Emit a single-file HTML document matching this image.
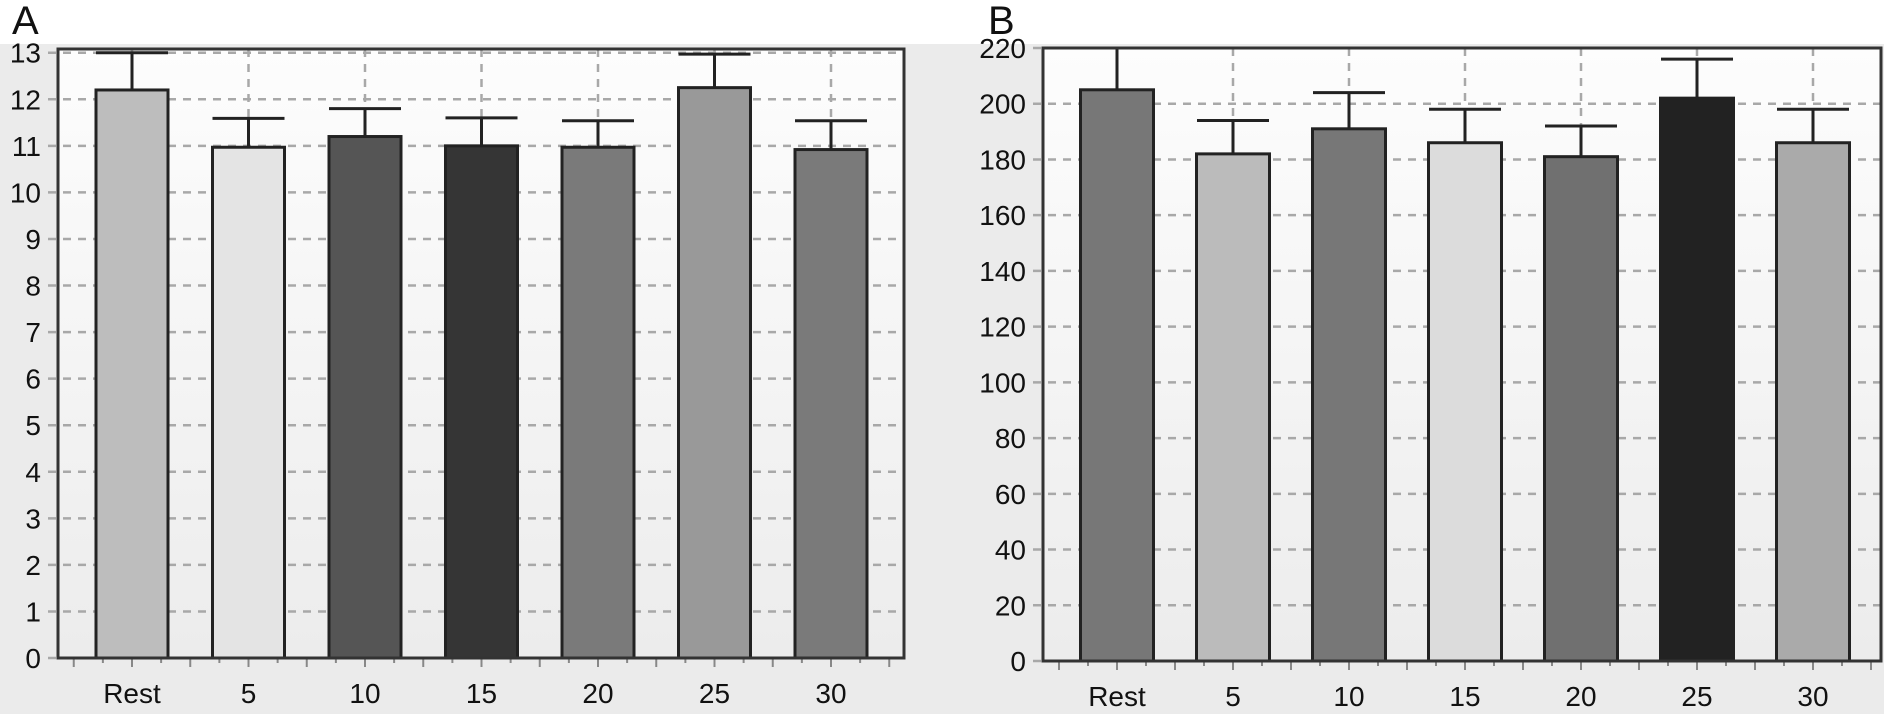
<!DOCTYPE html>
<html><head><meta charset="utf-8"><style>
html,body{margin:0;padding:0;background:#fff;}
svg{display:block;font-family:"Liberation Sans",Arial,sans-serif;}
</style></head><body>
<svg id="fig" width="1884" height="717" viewBox="0 0 1884 717" xmlns="http://www.w3.org/2000/svg">
<defs>
<linearGradient id="pbg" x1="0" y1="0" x2="0" y2="1">
<stop offset="0" stop-color="#fdfdfd"/><stop offset="1" stop-color="#ececec"/>
</linearGradient>
</defs>
<rect x="0" y="44" width="1884" height="670" fill="#ebebeb"/>
<text x="12" y="34" font-size="40" fill="#111">A</text>
<text x="988" y="34" font-size="40" fill="#111">B</text>
<g id="chartA"></g>
<g id="chartB"></g>
</svg>
<script>
const categories = ["Rest","5","10","15","20","25","30"];
const valuesA = [12.2, 10.97, 11.2, 11.0, 10.97, 12.25, 10.92];
const errorsA = [0.8, 0.62, 0.6, 0.6, 0.57, 0.72, 0.62];
const ticksA = [0,1,2,3,4,5,6,7,8,9,10,11,12,13];
const colorsA = ["#bdbdbd","#e4e4e4","#555555","#353535","#7a7a7a","#999999","#7a7a7a"];
const valuesB = [205, 182, 191, 186, 181, 202, 186];
const errorsB = [15, 12, 13, 12, 11, 14, 12];
const ticksB = [0,20,40,60,80,100,120,140,160,180,200,220];
const colorsB = ["#777777","#bbbbbb","#777777","#dcdcdc","#707070","#222222","#aaaaaa"];
const NS = "http://www.w3.org/2000/svg";
function mk(tag, attrs, parent){const e=document.createElementNS(NS,tag);for(const k in attrs)e.setAttribute(k,attrs[k]);parent.appendChild(e);return e;}
function drawChart(g, cfg){
  const {left,right,top,bottom,ymax,vals,errs,ticks,colors,firstCenter,step,barW,prefix}=cfg;
  const y = v => bottom - (v/ymax)*(bottom-top);
  const x = i => firstCenter + i*step;
  const bg = mk("rect",{x:left,y:top,width:right-left,height:bottom-top,fill:"url(#pbg)"},g);
  
  
  ticks.forEach(t=>{
    const gl = mk("line",{x1:left-10,x2:right,y1:y(t),y2:y(t),stroke:"#a8a8a8","stroke-width":2.5,"stroke-dasharray":"8 7"},g);
    
    
    const tl = mk("text",{x:left-17,y:y(t)+10,"font-size":28,"text-anchor":"end",fill:"#111"},g);
    tl.textContent = t;
    
    
  });
  categories.forEach((c,i)=>{
    const vg = mk("line",{x1:x(i),x2:x(i),y1:top,y2:bottom,stroke:"#a8a8a8","stroke-width":2.5,"stroke-dasharray":"8 7"},g);
    
    
  });
  for(let k=0;k<=((right-left)/(step/4));k++){
    const tx = firstCenter - step*0.5 + k*step/4 - step/4*Math.floor((firstCenter-step*0.5-left)/(step/4));
    if(tx<left||tx>right) continue;
    const tk = mk("line",{x1:tx,x2:tx,y1:bottom,y2:bottom+(k%2?5:9),stroke:"#888","stroke-width":2},g);
    
    
  }
  categories.forEach((c,i)=>{
    const top0=y(vals[i]+errs[i]);
    const el = mk("line",{x1:x(i),x2:x(i),y1:top0,y2:y(vals[i]),stroke:"#222","stroke-width":3},g);
    
    
    const cap = mk("line",{x1:x(i)-36,x2:x(i)+36,y1:top0,y2:top0,stroke:"#222","stroke-width":3},g);
    
    
    const b = mk("rect",{x:x(i)-barW/2,y:y(vals[i]),width:barW,height:bottom-y(vals[i]),fill:colors[i],stroke:"#222","stroke-width":3},g);
    
    
    const xl = mk("text",{x:x(i),y:bottom+45,"font-size":28,"text-anchor":"middle",fill:"#111"},g);
    xl.textContent = c;
    
    
  });
  const fr = mk("rect",{x:left,y:top,width:right-left,height:bottom-top,fill:"none",stroke:"#333","stroke-width":3},g);
  
  
}
drawChart(document.getElementById("chartA"),{left:58,right:904,top:49,bottom:658,ymax:13.08,vals:valuesA,errs:errorsA,ticks:ticksA,colors:colorsA,firstCenter:132,step:116.5,barW:72,prefix:"a"});
drawChart(document.getElementById("chartB"),{left:1043,right:1881,top:48,bottom:661,ymax:220,vals:valuesB,errs:errorsB,ticks:ticksB,colors:colorsB,firstCenter:1117,step:116,barW:73,prefix:"b"});
</script>
</body></html>
